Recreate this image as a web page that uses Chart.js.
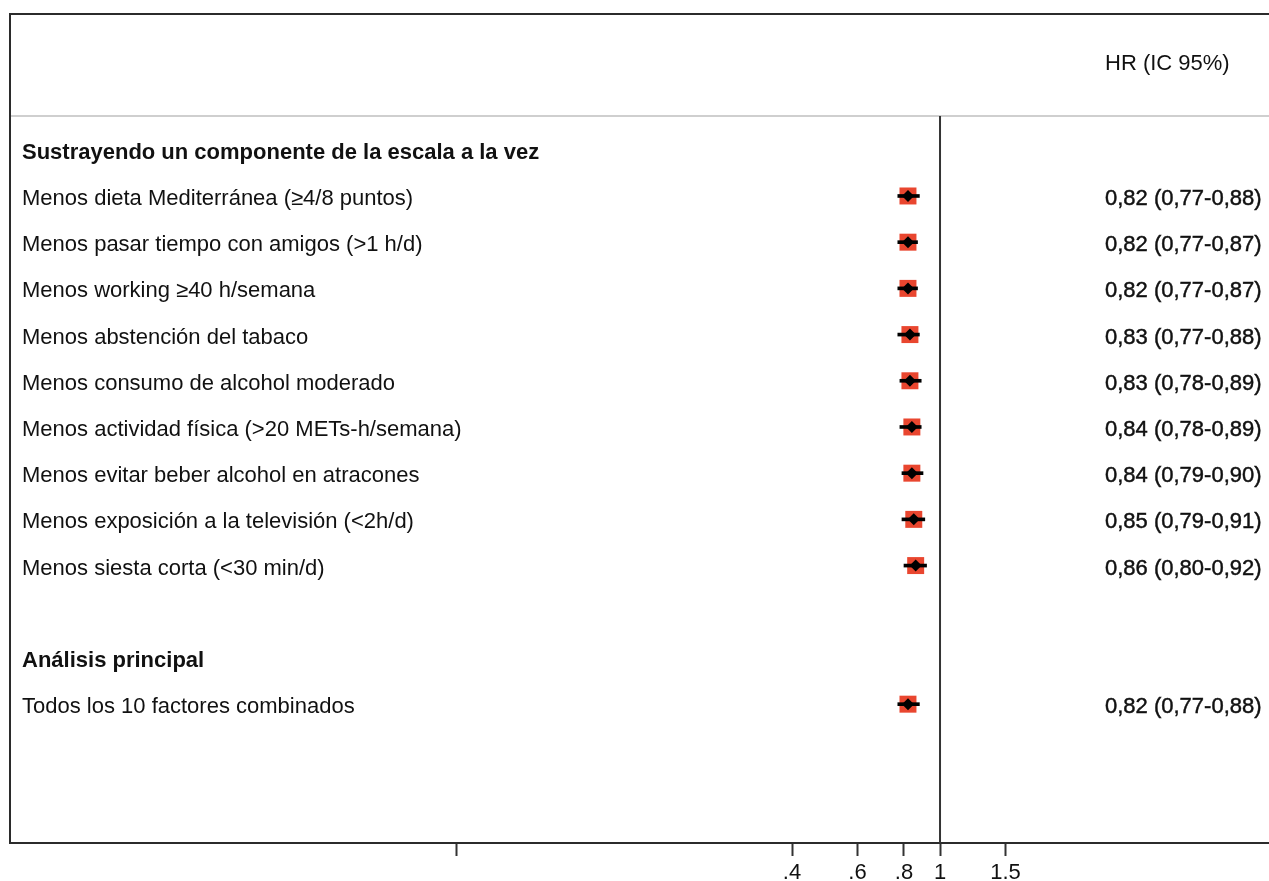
<!DOCTYPE html>
<html>
<head>
<meta charset="utf-8">
<script src="https://cdn.jsdelivr.net/npm/chart.js@4/dist/chart.umd.min.js"></script>
<style>
  html, body { margin: 0; padding: 0; background: #fff; }
  #wrap { width: 1269px; height: 881px; }
</style>
</head>
<body>
<div id="wrap"><canvas id="forest-chart" width="1269" height="881"></canvas></div>
<script>
// rows of the table, top to bottom
var rowLabels = [
    'Sustrayendo un componente de la escala a la vez',
    'Menos dieta Mediterránea (≥4/8 puntos)',
    'Menos pasar tiempo con amigos (>1 h/d)',
    'Menos working ≥40 h/semana',
    'Menos abstención del tabaco',
    'Menos consumo de alcohol moderado',
    'Menos actividad física (>20 METs-h/semana)',
    'Menos evitar beber alcohol en atracones',
    'Menos exposición a la televisión (<2h/d)',
    'Menos siesta corta (<30 min/d)',
    '',
    'Análisis principal',
    'Todos los 10 factores combinados'
];
var rowBold = [true, false, false, false, false, false, false, false, false, false, false, true, false];

// hazard ratios and 95% CI
var hr    = [null, 0.82, 0.82, 0.82, 0.83, 0.83, 0.84, 0.84, 0.85, 0.86, null, null, 0.82];
var lower = [null, 0.77, 0.77, 0.77, 0.77, 0.78, 0.78, 0.79, 0.79, 0.80, null, null, 0.77];
var upper = [null, 0.88, 0.87, 0.87, 0.88, 0.89, 0.89, 0.90, 0.91, 0.92, null, null, 0.88];

var tickValues = [0.05, 0.4, 0.6, 0.8, 1, 1.5];
var tickLabels = ['', '.4', '.6', '.8', '1', '1.5'];

var headerText = 'HR (IC 95%)';

var FONT = '"Liberation Sans", Arial, Helvetica, sans-serif';

function fmt(v) {
    return v.toFixed(2).replace('.', ',');
}

var pointData = [];
var ciData = [];
hr.forEach(function (v, i) {
    if (v === null) return;
    pointData.push({ x: v, y: i });
    ciData.push({ x: [lower[i], upper[i]], y: i });
});

// frame, separator, null line and the text columns
var tablePlugin = {
    id: 'forestTable',
    beforeDatasetsDraw: function (chart) {
        var ctx = chart.ctx;
        var area = chart.chartArea;
        var xs = chart.scales.x;
        var ys = chart.scales.y;
        var sepY = ys.getPixelForValue(-0.73);
        ctx.save();
        // light separator under the header
        ctx.strokeStyle = '#cfcfcf';
        ctx.lineWidth = 2;
        ctx.beginPath();
        ctx.moveTo(area.left, sepY);
        ctx.lineTo(area.right, sepY);
        ctx.stroke();
        // frame
        ctx.strokeStyle = '#2b2b2b';
        ctx.lineWidth = 2;
        ctx.beginPath();
        ctx.moveTo(area.right, area.top);
        ctx.lineTo(area.left, area.top);
        ctx.lineTo(area.left, area.bottom);
        ctx.stroke();
        // line of no effect
        var x1 = xs.getPixelForValue(1);
        ctx.strokeStyle = '#333';
        ctx.beginPath();
        ctx.moveTo(x1, sepY);
        ctx.lineTo(x1, area.bottom);
        ctx.stroke();
        ctx.restore();
    },
    afterDraw: function (chart) {
        var ctx = chart.ctx;
        var ys = chart.scales.y;
        ctx.save();
        ctx.textBaseline = 'middle';
        ctx.textAlign = 'left';
        ctx.fillStyle = '#111';
        ctx.font = '22px ' + FONT;
        ctx.fillText(headerText, 1105, ys.getPixelForValue(-1.9) + 2);
        rowLabels.forEach(function (label, i) {
            var y = ys.getPixelForValue(i) + 3;
            ctx.font = (rowBold[i] ? 'bold ' : '') + '22px ' + FONT;
            ctx.fillText(label, 22, y);
            if (hr[i] !== null) {
                var txt = fmt(hr[i]) + ' (' + fmt(lower[i]) + '-' + fmt(upper[i]) + ')';
                ctx.font = '22px ' + FONT;
                ctx.strokeStyle = '#111';
                ctx.lineWidth = 0.45;
                ctx.fillText(txt, 1105, y);
                ctx.strokeText(txt, 1105, y);
            }
        });
        ctx.restore();
    }
};

var handleForest = function () {
    var ctx = document.getElementById('forest-chart').getContext('2d');
    window.forestChart = new Chart(ctx, {
        type: 'scatter',
        data: {
            datasets: [{
                // weight boxes
                data: pointData,
                pointStyle: 'rect',
                pointRadius: 12,
                backgroundColor: '#e9462f',
                borderWidth: 0,
                order: 3
            }, {
                type: 'bar',
                indexAxis: 'y',
                data: ciData,
                barThickness: 3,
                backgroundColor: '#000',
                borderWidth: 0,
                order: 2
            }, {
                // point estimates
                data: pointData,
                pointStyle: 'rectRot',
                pointRadius: 6,
                backgroundColor: '#000',
                borderWidth: 0,
                order: 1
            }]
        },
        options: {
            responsive: false,
            devicePixelRatio: 1,
            animation: false,
            layout: {
                autoPadding: false,
                padding: { top: 14, left: 10, right: 0, bottom: 0 }
            },
            plugins: {
                legend: { display: false },
                tooltip: { enabled: false }
            },
            scales: {
                x: {
                    type: 'logarithmic',
                    position: 'bottom',
                    min: 0.003155,
                    max: 7.668,
                    bounds: 'data',
                    offset: false,
                    beginAtZero: false,
                    afterBuildTicks: function (scale) {
                        scale.ticks = tickValues.map(function (v) { return { value: v }; });
                    },
                    afterFit: function (scale) {
                        scale.height = 38;
                    },
                    ticks: {
                        autoSkip: false,
                        maxRotation: 0,
                        padding: 4,
                        color: '#111',
                        font: { family: FONT, size: 22 },
                        callback: function (val, idx) { return tickLabels[idx]; }
                    },
                    grid: {
                        drawOnChartArea: false,
                        drawTicks: true,
                        tickLength: 13,
                        tickWidth: 2,
                        tickColor: '#333'
                    },
                    border: { display: true, color: '#2b2b2b', width: 2 }
                },
                y: {
                    type: 'linear',
                    display: false,
                    reverse: true,
                    offset: false,
                    min: -2.939,
                    max: 15.005
                }
            }
        },
        plugins: [tablePlugin]
    });
};

handleForest();
</script>
</body>
</html>
